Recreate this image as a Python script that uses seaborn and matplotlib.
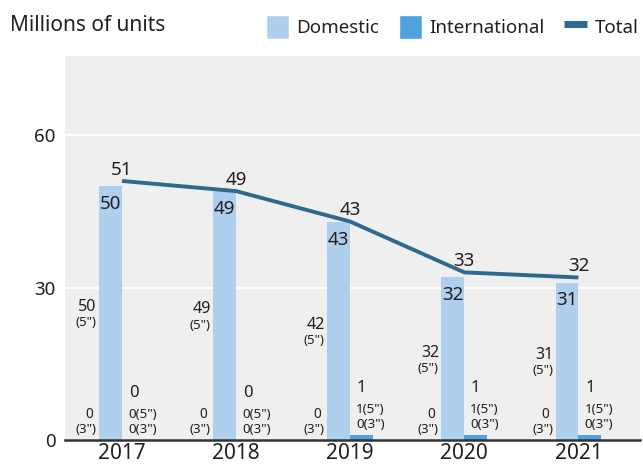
import numpy as np
import pandas as pd
import seaborn as sns
import matplotlib.pyplot as plt
from matplotlib.patches import Patch
from matplotlib.lines import Line2D

years = ["2017", "2018", "2019", "2020", "2021"]
domestic = [50, 49, 43, 32, 31]
international = [0, 0, 1, 1, 1]
total = [51, 49, 43, 33, 32]
# breakdown by screen size
domestic_5in = [50, 49, 42, 32, 31]
domestic_3in = [0, 0, 0, 0, 0]
international_5in = [0, 0, 1, 1, 1]
international_3in = [0, 0, 0, 0, 0]
y_ticks = [0, 30, 60]

c_dom = "#aecfee"
c_int = "#4fa3dc"
c_tot = "#2d6a8e"
c_txt = "#231f20"

sns.set_theme(style="darkgrid", rc={
    "axes.facecolor": "#efefef",
    "grid.color": "white",
    "grid.linewidth": 1.5,
})
plt.rcParams["font.family"] = ["Noto Sans", "DejaVu Sans"]
plt.rcParams["text.color"] = c_txt

df = pd.DataFrame({
    "year": years * 2,
    "kind": ["Domestic"] * 5 + ["International"] * 5,
    "units": domestic + international,
})

fig = plt.figure(figsize=(6.43, 4.66), dpi=100)
ax = fig.add_axes([65 / 643, 26 / 466, 575 / 643, 384 / 466])

sns.barplot(data=df, x="year", y="units", hue="kind", order=years,
            hue_order=["Domestic", "International"],
            palette=[c_dom, c_int], width=0.4, saturation=1,
            errorbar=None, legend=False, ax=ax, linewidth=0)
sns.lineplot(x=np.arange(len(years)), y=total, color=c_tot, linewidth=2.8,
             ax=ax, solid_capstyle="butt")

ax.set_xlim(-0.5, 4.54)
ax.set_ylim(0, 75.6)
ax.set_xticks(range(len(years)), years)
ax.set_yticks(y_ticks)
ax.grid(axis="x", visible=False)
ax.set_xlabel("")
ax.set_ylabel("")
ax.tick_params(axis="x", labelsize=15, colors=c_txt, pad=2, length=0)
ax.tick_params(axis="y", labelsize=13.5, colors=c_txt, pad=7, length=0)
for s in ["left", "right", "top"]:
    ax.spines[s].set_visible(False)
ax.spines["bottom"].set_visible(True)
ax.spines["bottom"].set_color("#333333")
ax.spines["bottom"].set_linewidth(1.8)

for i in range(len(years)):
    xd = i - 0.1
    xi = i + 0.1
    # total above the line
    ax.annotate(str(total[i]), (i, total[i]), xytext=(0, 4.5),
                textcoords="offset points", ha="center", va="baseline",
                fontsize=13.5)
    # domestic value inside the bar
    ax.annotate(str(domestic[i]), (xd, domestic[i]), xytext=(0, -16.5),
                textcoords="offset points", ha="center", va="baseline",
                fontsize=13.5)
    # domestic 5" on the left, mid bar
    ax.annotate(str(domestic_5in[i]), (i - 0.2, domestic[i] / 2),
                xytext=(-1.8, 1.5), textcoords="offset points",
                ha="right", va="baseline", fontsize=11.5)
    ax.annotate('(5")', (i - 0.2, domestic[i] / 2),
                xytext=(-1.8, -9.5), textcoords="offset points",
                ha="right", va="baseline", fontsize=9.5)
    # domestic 3" at the bottom left
    ax.annotate(str(domestic_3in[i]), (i - 0.2, 0), xytext=(-4.5, 15.6),
                textcoords="offset points", ha="right", va="baseline",
                fontsize=9.8)
    ax.annotate('(3")', (i - 0.2, 0), xytext=(-1.8, 5),
                textcoords="offset points", ha="right", va="baseline",
                fontsize=9.5)
    # international value above its bar
    ax.annotate(str(international[i]), (xi, international[i]),
                xytext=(0, 31), textcoords="offset points",
                ha="center", va="baseline", fontsize=12)
    ax.annotate(f'{international_5in[i]}(5")', (i, international[i]),
                xytext=(4.3, 16), textcoords="offset points",
                ha="left", va="baseline", fontsize=9.6)
    ax.annotate(f'{international_3in[i]}(3")', (i, international[i]),
                xytext=(4.3, 5), textcoords="offset points",
                ha="left", va="baseline", fontsize=9.6)

fig.text(10 / 643, 1 - 31 / 466, "Millions of units", fontsize=15,
         ha="left", va="baseline")

handles = [
    Patch(facecolor=c_dom, label="Domestic"),
    Patch(facecolor=c_int, label="International"),
    Line2D([0], [0], color=c_tot, linewidth=5, solid_capstyle="butt",
           label="Total"),
]
fig.legend(handles=handles, loc="upper right", ncol=3,
           bbox_to_anchor=(1.0 + 5 / 643, 1.0 - 6 / 466), frameon=False,
           fontsize=13.5, handlelength=1.22, handleheight=1.55,
           handletextpad=0.4, columnspacing=1.05, borderaxespad=0.2,
           borderpad=0.3)

fig.savefig("out.png", dpi=100)
